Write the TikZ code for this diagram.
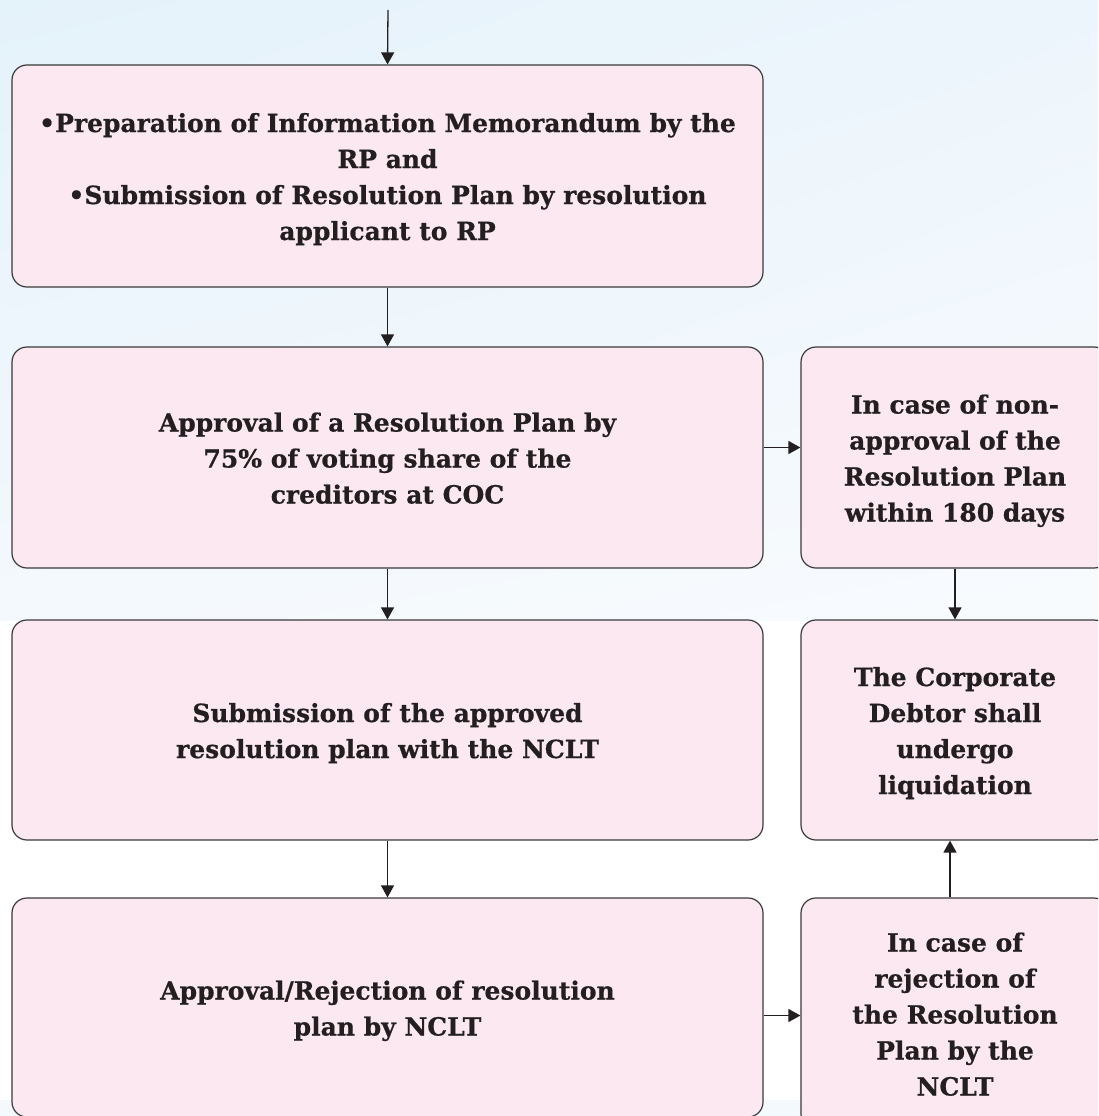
\documentclass[tikz,border=0pt]{standalone}
\usepackage{fontspec}
\setmainfont{DejaVu Serif}[BoldFeatures={FakeBold=0.6}]
\usetikzlibrary{arrows.meta,shadings}
\definecolor{boxfill}{HTML}{FCE8F1}
\definecolor{boxline}{HTML}{3A3A3A}
\definecolor{txt}{HTML}{231F20}
\definecolor{bgUL}{HTML}{E4F2FA}
\definecolor{bgUR}{HTML}{EDF5FC}
\definecolor{bgLL}{HTML}{F4F9FD}
\definecolor{bgLR}{HTML}{F8FBFE}
\newcommand\topstrut{\rule{0pt}{28pt}}
\newcommand\botstrut{\rule[-8pt]{0pt}{8pt}}
\tikzset{
  stepbox/.style={draw=boxline, line width=1.2pt, fill=boxfill, rounded corners=15pt,
    inner sep=0pt, align=center, text=txt,
    font=\fontsize{25}{36}\selectfont\bfseries},
  conn/.style={draw=txt, line width=1.3pt, -{Triangle[length=12pt,width=13pt]}},
}
\begin{document}
\begin{tikzpicture}[x=1pt,y=-1pt]
\useasboundingbox (0,0) rectangle (1098,1116);
\clip (0,0) rectangle (1098,1116);
\fill[white] (0,0) rectangle (1098,1116);
\shade[upper left=bgUL, upper right=bgUR, lower left=bgLL, lower right=bgLR] (0,0) rectangle (1098,620);
\fill[bgLL] (0,1100) rectangle (1098,1116);
\node[stepbox, minimum width=751pt, minimum height=222pt] (b1) at (387.5,176)
  {\topstrut•Preparation of Information Memorandum by the\\ RP and\\ •Submission of Resolution Plan by resolution\\ applicant to RP\botstrut};
\node[stepbox, minimum width=751pt, minimum height=221pt] (b2) at (387.5,457.5)
  {\topstrut Approval of a Resolution Plan by\\ 75\% of voting share of the\\ creditors at COC\botstrut};
\node[stepbox, minimum width=751pt, minimum height=220pt] (b3) at (387.5,730)
  {\topstrut Submission of the approved\\ resolution plan with the NCLT\botstrut};
\node[stepbox, minimum width=751pt, minimum height=219pt] (b4) at (387.5,1007.5)
  {\topstrut Approval/Rejection of resolution\\ plan by NCLT\botstrut};
\node[stepbox, minimum width=308pt, minimum height=221pt] (r1) at (955,457.5)
  {\topstrut In case of non-\\ approval of the\\ Resolution Plan\\ within 180 days\botstrut};
\node[stepbox, minimum width=308pt, minimum height=220pt] (r2) at (955,730)
  {\topstrut The Corporate\\ Debtor shall\\ undergo\\ liquidation\botstrut};
\node[stepbox, minimum width=308pt, minimum height=231pt] (r3) at (955,1013.5)
  {\topstrut In case of\\ rejection of\\ the Resolution\\ Plan by the\\ NCLT\botstrut};
\coordinate (top) at (388,10);
\draw[conn] (top) -- (b1.north);
\draw[conn] (b1) -- (b2);
\draw[conn] (b2) -- (b3);
\draw[conn] (b3) -- (b4);
\draw[conn] ([yshift=10pt]b2.east) -- ([yshift=10pt]r1.west);
\draw[conn] (r1) -- (r2);
\draw[conn] ([yshift=-8pt]b4.east) -- ([yshift=-8pt]b4.east -| r3.west);
\draw[conn] ([xshift=-5pt]r3.north) -- ([xshift=-5pt]r2.south);
\end{tikzpicture}
\end{document}
